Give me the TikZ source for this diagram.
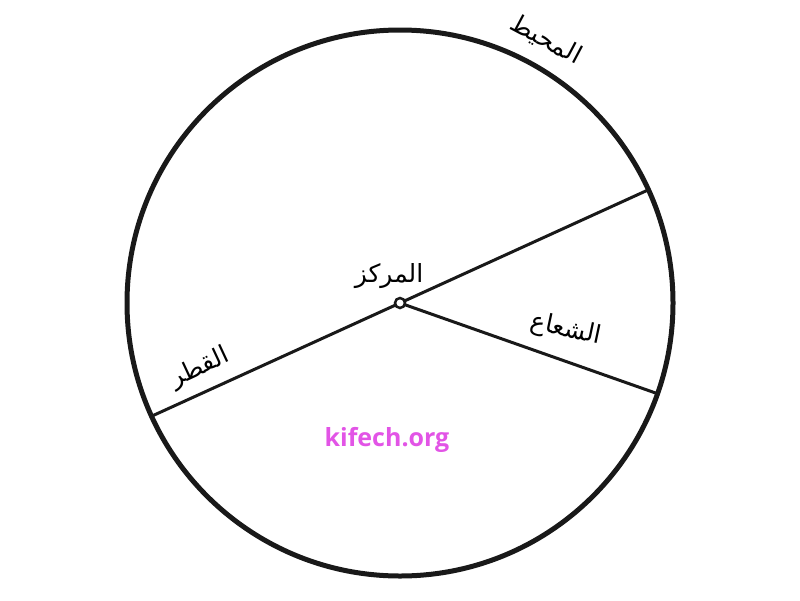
\documentclass[tikz,border=0pt]{standalone}
\usepackage{fontspec}
\newfontfamily\arabicfont[Script=Arabic]{DejaVu Sans}
\newfontfamily\webfont{Open Sans}
\TeXXeTstate=1
\usetikzlibrary{positioning,calc}

\definecolor{sitepink}{HTML}{E254E6}

\tikzset{
	rim/.style={line width=5pt, draw=black!90},
	seg/.style={line width=3pt, draw=black!90},
	word/.style={font=\arabicfont\fontsize{25}{30}\selectfont, inner sep=0pt},
}

\begin{document}
\begin{tikzpicture}[
		x=1pt, y=-1pt,
	]
		\useasboundingbox (0,0) rectangle (800,600);
		\coordinate (o) at (400,303);
		\coordinate (d1) at ($(o)+(155.5:273)$);
		\coordinate (d2) at ($(o)+(-24.5:273)$);
		\coordinate (r) at ($(o)+(19.4:273)$);
		
		\draw [rim] (o) circle (273);
		\draw [seg] (d1) -- (d2);
		\draw [seg] (o) -- (r);
		\node [circle, draw=black!90, line width=2.5pt, fill=white, minimum size=10pt, inner sep=0pt] (dot) at (o) {};
		
		\node [word, rotate=-28] (muhit) at (546,40) {\beginR المحيط\endR};
		\node [word] (markaz) at (389,276) {\beginR المركز\endR};
		\node [word, rotate=-12] (shuaa) at (566,330) {\beginR الشعاع\endR};
		\node [word, rotate=25] (qutr) at (200,368) {\beginR القطر\endR};
		\node [font=\webfont\bfseries\fontsize{25}{28}\selectfont, text=sitepink] (site) at (387,440) {kifech.org};
	\end{tikzpicture}
\end{document}
